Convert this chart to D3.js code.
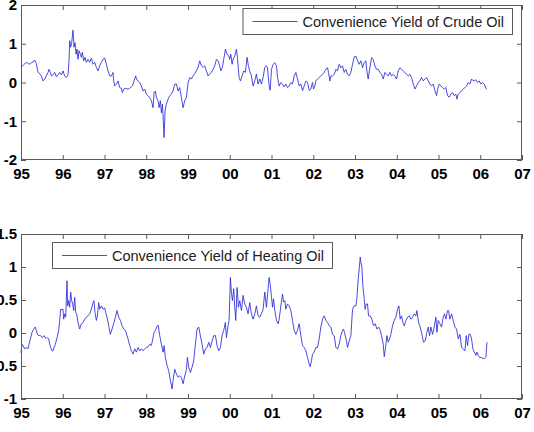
<!DOCTYPE html>
<html><head><meta charset="utf-8">
<script src="https://cdn.jsdelivr.net/npm/d3@7"></script>
<style>
html,body{margin:0;padding:0;background:#fff;}
svg{display:block;}
.tick text{font-family:"Liberation Sans",Arial,sans-serif;font-weight:bold;font-size:15px;fill:#000;}
</style></head>
<body>
<svg id="chart" width="534" height="432"></svg>
<script>
// ---- data ----
const yearTicks = [1995,1996,1997,1998,1999,2000,2001,2002,2003,2004,2005,2006,2007];
const yearLabels = ["95","96","97","98","99","00","01","02","03","04","05","06","07"];
const crudeTicks = [-2,-1,0,1,2];
const crudeTickLabels = ["-2","-1","0","1","2"];
const heatTicks = [-1,-0.5,0,0.5,1,1.5];
const heatTickLabels = ["-1","-0.5","0","0.5","1","1.5"];
const crudeLabel = "Convenience Yield of Crude Oil";
const heatLabel = "Convenience Yield of Heating Oil";

const crudeTimes = [1995.000,1995.064,1995.128,1995.192,1995.248,1995.288,1995.327,1995.367,1995.407,1995.447,1995.487,1995.527,1995.567,1995.607,1995.647,1995.671,1995.703,1995.727,1995.767,1995.807,1995.847,1995.887,1995.927,1995.966,
1996.006,1996.046,1996.086,1996.126,1996.150,1996.166,1996.190,1996.214,1996.246,1996.270,1996.294,1996.318,1996.342,1996.366,1996.390,1996.422,1996.446,1996.470,1996.502,1996.534,1996.565,1996.605,1996.645,1996.685,1996.725,1996.765,1996.805,1996.845,1996.885,1996.925,1996.965,
1997.005,1997.045,1997.085,1997.125,1997.165,1997.204,1997.220,1997.244,1997.284,1997.324,1997.364,1997.404,1997.428,1997.460,1997.508,1997.564,1997.604,1997.668,1997.708,1997.748,1997.764,1997.804,1997.843,1997.883,1997.923,1997.963,
1998.003,1998.043,1998.083,1998.123,1998.163,1998.187,1998.219,1998.243,1998.283,1998.307,1998.339,1998.363,1998.387,1998.403,1998.427,1998.450,1998.482,1998.522,1998.562,1998.602,1998.642,1998.682,1998.722,1998.762,1998.802,1998.842,1998.882,1998.922,1998.962,
1999.002,1999.042,1999.081,1999.121,1999.161,1999.201,1999.241,1999.281,1999.321,1999.361,1999.401,1999.441,1999.481,1999.521,1999.561,1999.601,1999.641,1999.681,1999.720,1999.760,1999.784,1999.824,1999.856,1999.896,1999.936,1999.976,
2000.000,2000.024,2000.056,2000.080,2000.120,2000.160,2000.184,2000.224,2000.256,2000.296,2000.335,2000.375,2000.415,2000.447,2000.479,2000.519,2000.559,2000.599,2000.639,2000.679,2000.719,2000.759,2000.799,2000.839,2000.879,2000.904,2000.944,2000.968,
2001.000,2001.040,2001.080,2001.120,2001.144,2001.184,2001.224,2001.264,2001.304,2001.343,2001.383,2001.423,2001.463,2001.503,2001.543,2001.583,2001.623,2001.663,2001.703,2001.743,2001.783,2001.823,2001.863,2001.903,2001.942,2001.982,
2002.006,2002.038,2002.062,2002.102,2002.142,2002.182,2002.222,2002.262,2002.302,2002.342,2002.366,2002.398,2002.422,2002.462,2002.502,2002.542,2002.581,2002.621,2002.661,2002.701,2002.741,2002.781,2002.821,2002.861,2002.901,2002.941,2002.981,
2003.021,2003.061,2003.101,2003.141,2003.181,2003.220,2003.260,2003.284,2003.316,2003.356,2003.396,2003.436,2003.476,2003.516,2003.556,2003.596,2003.636,2003.676,2003.716,2003.756,2003.796,2003.836,2003.875,2003.915,2003.955,2003.995,
2004.035,2004.075,2004.115,2004.155,2004.195,2004.235,2004.275,2004.315,2004.355,2004.395,2004.435,2004.474,2004.514,2004.554,2004.594,2004.634,2004.674,2004.714,2004.754,2004.794,2004.834,2004.874,2004.914,2004.954,2004.978,
2005.018,2005.058,2005.097,2005.137,2005.177,2005.217,2005.257,2005.297,2005.337,2005.377,2005.417,2005.441,2005.473,2005.513,2005.553,2005.593,2005.633,2005.673,2005.712,2005.752,2005.792,2005.816,2005.856,2005.896,2005.936,2005.976,
2006.016,2006.056,2006.096,2006.136,2006.160];
const crudeValues = [0.39,0.46,0.52,0.47,0.51,0.53,0.58,0.49,0.26,0.23,0.17,0.04,0.09,0.17,0.26,0.34,0.26,0.17,0.20,0.26,0.15,0.20,0.26,0.20,
0.30,0.17,0.13,0.20,0.56,1.08,0.91,1.03,1.35,0.91,1.03,0.73,0.86,0.60,0.82,0.73,0.65,0.78,0.56,0.65,0.52,0.60,0.52,0.63,0.47,0.52,0.39,0.30,0.43,0.52,0.60,
0.63,0.47,0.30,0.17,0.17,0.26,0.04,-0.09,-0.04,0.04,-0.13,-0.15,-0.26,-0.17,-0.15,-0.17,-0.15,-0.09,0.04,0.17,0.09,0.04,0.00,-0.09,-0.22,-0.17,
-0.30,-0.34,-0.39,-0.47,-0.65,-0.26,-0.22,-0.39,-0.47,-0.65,-0.47,-0.78,-0.56,-0.86,-1.42,-0.73,-0.56,-0.43,-0.34,-0.30,-0.22,-0.04,-0.04,-0.22,-0.13,-0.39,-0.65,-0.47,-0.39,
0.00,0.13,0.09,0.17,0.23,0.30,0.39,0.56,0.43,0.39,0.43,0.30,0.17,0.22,0.26,0.34,0.43,0.60,0.56,0.43,0.30,0.39,0.60,0.86,0.73,0.69,
0.60,0.73,0.47,0.60,0.69,0.86,0.65,0.13,0.04,0.17,0.30,0.26,0.65,0.43,0.30,0.17,-0.09,0.04,0.22,-0.04,0.09,-0.04,0.13,0.39,0.43,0.38,-0.09,-0.20,
0.34,0.47,0.51,0.43,0.13,-0.09,0.00,-0.04,-0.11,-0.04,-0.13,-0.09,0.00,-0.04,0.17,0.26,0.09,-0.09,-0.04,-0.21,-0.09,0.04,0.00,-0.21,-0.17,0.00,
-0.17,-0.09,0.04,0.09,0.13,0.17,0.21,0.26,0.34,0.38,0.26,0.04,0.17,0.17,0.21,0.34,0.30,0.47,0.38,0.43,0.26,0.34,0.21,0.17,0.26,0.47,0.66,
0.68,0.56,0.47,0.56,0.38,0.51,0.56,0.30,0.09,0.38,0.64,0.60,0.43,0.34,0.34,0.26,0.21,0.09,0.26,0.21,0.17,0.26,0.17,0.21,0.17,0.09,
0.30,0.38,0.34,0.30,0.26,0.21,0.17,0.21,0.13,-0.04,-0.17,-0.09,0.00,0.04,0.13,0.04,0.09,0.13,0.04,-0.04,-0.09,-0.04,-0.21,-0.34,-0.17,
-0.04,-0.09,-0.13,-0.17,-0.13,-0.34,-0.38,-0.30,-0.26,-0.34,-0.30,-0.43,-0.30,-0.26,-0.21,-0.17,-0.13,-0.09,0.00,-0.04,0.09,0.06,0.04,0.07,0.00,0.04,
-0.04,0.00,-0.04,-0.15,-0.17];

const heatTimes = [1995.000,1995.024,1995.048,1995.088,1995.128,1995.168,1995.192,1995.224,1995.264,1995.304,1995.343,1995.367,1995.391,1995.431,1995.471,1995.511,1995.551,1995.591,1995.631,1995.663,1995.687,1995.711,1995.743,1995.767,1995.791,1995.823,1995.863,1995.903,1995.927,1995.950,1995.982,
1996.006,1996.022,1996.046,1996.070,1996.102,1996.118,1996.142,1996.166,1996.190,1996.214,1996.238,1996.262,1996.286,1996.310,1996.334,1996.366,1996.406,1996.446,1996.486,1996.526,1996.565,1996.605,1996.645,1996.685,1996.725,1996.749,1996.773,1996.805,1996.829,1996.861,1996.885,1996.925,1996.965,
1997.005,1997.029,1997.061,1997.101,1997.141,1997.181,1997.220,1997.260,1997.300,1997.340,1997.380,1997.420,1997.460,1997.500,1997.540,1997.564,1997.604,1997.644,1997.684,1997.724,1997.764,1997.804,1997.843,1997.883,1997.923,1997.963,
1998.003,1998.043,1998.083,1998.123,1998.163,1998.187,1998.219,1998.259,1998.283,1998.299,1998.323,1998.363,1998.403,1998.427,1998.458,1998.498,1998.538,1998.578,1998.618,1998.642,1998.682,1998.722,1998.762,1998.802,1998.842,1998.882,1998.922,1998.962,1998.986,
1999.018,1999.058,1999.097,1999.137,1999.177,1999.217,1999.257,1999.297,1999.337,1999.377,1999.417,1999.457,1999.497,1999.537,1999.577,1999.617,1999.657,1999.697,1999.736,1999.776,1999.816,1999.856,1999.896,1999.920,1999.960,1999.984,
2000.016,2000.040,2000.064,2000.096,2000.120,2000.144,2000.176,2000.208,2000.240,2000.280,2000.319,2000.359,2000.399,2000.439,2000.479,2000.519,2000.559,2000.599,2000.639,2000.679,2000.719,2000.759,2000.799,2000.839,2000.879,2000.919,2000.942,2000.968,
2001.000,2001.024,2001.048,2001.080,2001.120,2001.160,2001.184,2001.224,2001.264,2001.288,2001.319,2001.343,2001.383,2001.423,2001.463,2001.503,2001.543,2001.583,2001.623,2001.663,2001.703,2001.743,2001.783,2001.823,2001.863,2001.903,2001.927,2001.958,2001.982,
2002.022,2002.062,2002.102,2002.142,2002.182,2002.222,2002.262,2002.278,2002.302,2002.342,2002.382,2002.422,2002.462,2002.502,2002.542,2002.581,2002.621,2002.661,2002.701,2002.725,2002.757,2002.797,2002.821,2002.861,2002.901,2002.941,2002.981,
2003.021,2003.045,2003.077,2003.101,2003.125,2003.141,2003.165,2003.188,2003.220,2003.244,2003.268,2003.300,2003.324,2003.364,2003.404,2003.444,2003.484,2003.524,2003.564,2003.604,2003.636,2003.676,2003.700,2003.732,2003.764,2003.796,2003.827,2003.859,2003.899,2003.939,2003.979,
2004.019,2004.051,2004.083,2004.115,2004.147,2004.179,2004.219,2004.259,2004.299,2004.339,2004.379,2004.419,2004.458,2004.482,2004.522,2004.562,2004.602,2004.642,2004.682,2004.722,2004.754,2004.786,2004.818,2004.858,2004.898,2004.938,2004.962,2004.994,
2005.034,2005.073,2005.113,2005.145,2005.177,2005.217,2005.241,2005.273,2005.313,2005.353,2005.393,2005.433,2005.473,2005.513,2005.553,2005.593,2005.633,2005.665,2005.696,2005.728,2005.760,2005.792,2005.824,2005.856,2005.896,2005.920,2005.952,2005.984,
2006.016,2006.056,2006.096,2006.136,2006.160];
const heatValues = [-0.30,-0.17,-0.19,-0.24,-0.22,-0.24,-0.17,-0.09,0.01,0.06,0.09,0.04,-0.02,-0.04,-0.04,-0.07,-0.04,-0.08,-0.07,-0.09,-0.16,-0.22,-0.27,-0.27,-0.22,-0.17,-0.07,0.04,0.19,0.36,0.35,
0.36,0.21,0.29,0.24,0.79,0.41,0.49,0.39,0.62,0.49,0.44,0.34,0.54,0.31,0.29,0.16,0.06,0.14,0.16,0.21,0.24,0.26,0.29,0.36,0.46,0.49,0.31,0.19,0.26,0.46,0.36,0.41,0.36,
0.38,0.31,0.24,0.11,-0.02,0.06,0.14,0.24,0.34,0.24,0.19,0.11,0.06,0.04,-0.04,-0.09,-0.19,-0.27,-0.32,-0.24,-0.29,-0.22,-0.27,-0.24,-0.27,-0.24,
-0.22,-0.21,-0.17,-0.19,-0.07,0.01,0.04,0.10,0.12,0.06,-0.04,-0.17,-0.29,-0.19,-0.37,-0.49,-0.57,-0.72,-0.85,-0.72,-0.55,-0.62,-0.67,-0.65,-0.67,-0.77,-0.65,-0.55,-0.37,
-0.52,-0.60,-0.52,-0.42,-0.17,0.06,0.09,-0.04,-0.17,-0.32,-0.24,-0.22,-0.14,-0.22,-0.12,-0.04,-0.04,-0.19,-0.27,-0.22,-0.04,0.04,0.16,-0.07,0.11,0.19,
0.84,0.62,0.49,0.67,0.39,0.19,0.69,0.39,0.49,0.34,0.57,0.44,0.39,0.29,0.46,0.29,0.21,0.29,0.41,0.26,0.24,0.29,0.36,0.62,0.39,0.67,0.84,0.74,
0.54,0.39,0.52,0.34,0.19,0.14,0.21,0.41,0.59,0.47,0.49,0.36,0.44,0.41,0.34,0.19,0.04,-0.02,0.04,0.14,-0.04,-0.19,-0.22,-0.27,-0.37,-0.47,-0.51,-0.42,-0.32,
-0.29,-0.22,-0.22,-0.09,0.09,0.21,0.26,0.24,0.19,0.16,0.11,0.09,-0.02,-0.04,-0.22,-0.24,-0.17,-0.04,0.04,0.06,-0.02,-0.12,-0.22,-0.12,-0.04,0.36,0.41,
0.41,0.52,0.82,0.97,1.15,1.07,1.00,0.72,0.52,0.36,0.44,0.44,0.26,0.26,0.21,0.11,0.14,0.06,0.09,0.04,-0.04,-0.17,-0.36,-0.22,-0.04,-0.14,-0.09,-0.02,0.11,0.19,0.24,
0.36,0.41,0.21,0.26,0.16,0.11,0.19,0.24,0.26,0.21,0.24,0.29,0.26,0.34,0.16,0.09,-0.02,-0.14,-0.12,0.01,0.09,-0.04,0.09,-0.02,0.09,0.24,0.01,0.19,
0.14,0.09,0.24,0.29,0.21,0.34,0.34,0.21,0.29,0.19,0.09,0.06,-0.09,-0.02,-0.22,-0.24,-0.27,-0.04,-0.19,-0.02,-0.02,-0.09,-0.24,-0.29,-0.34,-0.29,-0.34,-0.37,
-0.37,-0.38,-0.39,-0.37,-0.14];

// ---- drawing ----
const svg = d3.select("#chart");
const lineColor = "#2a2ad8";
const frameColor = "#5a5a5a";

function panel(opts){
  const {top, bottom, yDomain, yTicks, yLabels, times, values, label, legend} = opts;
  const left = 21, right = 522;
  const x = d3.scaleLinear().domain([1995, 2007]).range([left, right]);
  const y = d3.scaleLinear().domain(yDomain).range([bottom, top]);
  const g = svg.append("g");

  g.append("rect").attr("x", left).attr("y", top).attr("width", right-left).attr("height", bottom-top).attr("fill", "#fff");

  const fmtX = d => yearLabels[yearTicks.indexOf(d)];
  const fmtY = d => yLabels[yTicks.indexOf(d)];

  const axB = g.append("g").attr("transform", `translate(0,${bottom})`)
    .call(d3.axisBottom(x).tickValues(yearTicks).tickFormat(fmtX).tickSizeInner(-5).tickSizeOuter(0).tickPadding(8));
  const axT = g.append("g").attr("transform", `translate(0,${top})`)
    .call(d3.axisTop(x).tickValues(yearTicks).tickFormat("").tickSizeInner(-5).tickSizeOuter(0));
  const axL = g.append("g").attr("transform", `translate(${left},0)`)
    .call(d3.axisLeft(y).tickValues(yTicks).tickFormat(fmtY).tickSizeInner(-5).tickSizeOuter(0).tickPadding(4));
  const axR = g.append("g").attr("transform", `translate(${right},0)`)
    .call(d3.axisRight(y).tickValues(yTicks).tickFormat("").tickSizeInner(-5).tickSizeOuter(0));
  [axB, axT, axL, axR].forEach(a => {
    a.select(".domain").remove();
    a.selectAll(".tick line").attr("stroke", frameColor).attr("stroke-width", 1);
  });

  const pts = times.map((t, i) => [t, values[i]]);
  g.append("path").datum(pts)
    .attr("fill", "none").attr("stroke", lineColor).attr("stroke-width", 0.85)
    .attr("stroke-linejoin", "round")
    .attr("d", d3.line().x(d => x(d[0])).y(d => y(d[1])));

  g.append("rect").attr("x", left + 0.5).attr("y", top + 0.5)
    .attr("width", right - left - 1).attr("height", bottom - top - 1)
    .attr("fill", "none").attr("stroke", frameColor).attr("stroke-width", 1);

  const lg = g.append("g");
  const txt = lg.append("text")
    .attr("font-family", "'Liberation Sans', Arial, sans-serif")
    .attr("font-size", 14.5).attr("fill", "#222")
    .attr("x", legend.x + 60).attr("y", legend.y + 19)
    .text(label);
  const tw = txt.node().getComputedTextLength();
  const w = 60 + tw + 8;
  lg.insert("rect", "text")
    .attr("x", legend.x + 0.5).attr("y", legend.y + 0.5)
    .attr("width", w).attr("height", 26)
    .attr("fill", "#fff").attr("stroke", frameColor).attr("stroke-width", 1);
  lg.append("line")
    .attr("x1", legend.x + 10).attr("x2", legend.x + 55)
    .attr("y1", legend.y + 13.5).attr("y2", legend.y + 13.5)
    .attr("stroke", lineColor).attr("stroke-width", 0.85);
  if (legend.alignRight) {
    lg.attr("transform", `translate(${legend.rightEdge - (legend.x + w)},0)`);
  }
}

panel({top: 5, bottom: 160, yDomain: [-2, 2], yTicks: crudeTicks, yLabels: crudeTickLabels,
  times: crudeTimes, values: crudeValues, label: crudeLabel,
  legend: {x: 238, y: 8, alignRight: true, rightEdge: 512}});
panel({top: 234, bottom: 399, yDomain: [-1, 1.5], yTicks: heatTicks, yLabels: heatTickLabels,
  times: heatTimes, values: heatValues, label: heatLabel,
  legend: {x: 52, y: 242}});
</script>
</body></html>
